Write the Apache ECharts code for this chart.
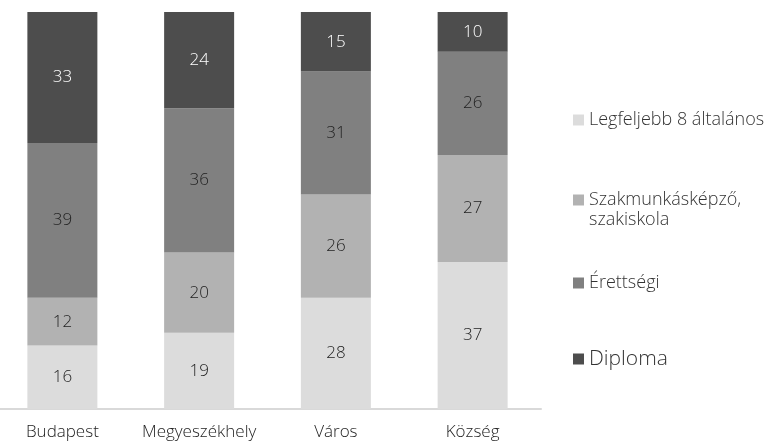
<!DOCTYPE html>
<html>
<head>
<meta charset="utf-8">
<script src="https://cdn.jsdelivr.net/npm/echarts@6/dist/echarts.min.js"></script>
<style>
  html, body { margin: 0; padding: 0; background: #fff; }
  #chart { width: 767px; height: 445px; }
</style>
</head>
<body>
<div id="chart"></div>
<script>
var categories = ['Budapest', 'Megyeszékhely', 'Város', 'Község']
var seriesNames = ['Legfeljebb 8 általános', 'Szakmunkásképző,\nszakiskola', 'Érettségi', 'Diploma']
var alapfok = [16, 19, 28, 37]
var szakiskola = [12, 20, 26, 27]
var erettsegi = [39, 36, 31, 26]
var diploma = [33, 24, 15, 10]
var colors = ['#dcdcdc', '#b2b2b2', '#808080', '#4d4d4d']
var labelColors = ['#222', '#222', '#222', '#fff']

var allValues = [alapfok, szakiskola, erettsegi, diploma]
// oszlopok 100%-ra normalizálva, felirat az eredeti érték
var totals = categories.map(function (c, i) {
  return allValues.reduce(function (s, arr) { return s + arr[i] }, 0)
})

var chart = echarts.init(document.getElementById('chart'))
var font = '"Open Sans", "Noto Sans", sans-serif'

var series = allValues.map(function (arr, k) {
  return {
    name: seriesNames[k],
    type: 'bar',
    stack: 'total',
    barWidth: 70,
    data: arr.map(function (v, i) {
      return { value: v / totals[i] * 100, raw: v }
    }),
    itemStyle: { color: colors[k] },
    label: {
      show: true,
      position: 'inside',
      color: labelColors[k],
      fontFamily: font,
      fontWeight: 300,
      fontSize: 17,
      formatter: function (p) { return p.data.raw }
    }
  }
})

var legendTops = [104, 165, 267, 341]
var lineHeights = [22, 20, 22, 26]
var legends = seriesNames.map(function (n, k) {
  return {
    data: [n],
    left: 568,
    top: legendTops[k],
    itemWidth: 11,
    itemHeight: 11,
    selectedMode: false,
    icon: 'rect',
    // kétsoros felirat: üres első sor, így a jel az első szövegsorhoz igazodik
    formatter: function (name) { return name.indexOf('\n') > -1 ? '\n' + name : name },
    textStyle: {
      fontFamily: font,
      fontWeight: 300,
      fontSize: k === 3 ? 21 : 18,
      color: '#333',
      lineHeight: lineHeights[k]
    }
  }
})

chart.setOption({
  animation: false,
  color: colors,
  legend: legends,
  grid: { left: -6, top: 12, width: 547, bottom: 36, outerBoundsMode: 'none', containLabel: false },
  xAxis: {
    type: 'category',
    data: categories,
    axisLine: { lineStyle: { color: '#d9d9d9', width: 2 } },
    axisTick: { show: false },
    axisLabel: { interval: 0, fontFamily: font, fontWeight: 300, fontSize: 17, color: '#222', margin: 15 }
  },
  yAxis: { type: 'value', min: 0, max: 100, show: false },
  series: series
})
</script>
</body>
</html>
